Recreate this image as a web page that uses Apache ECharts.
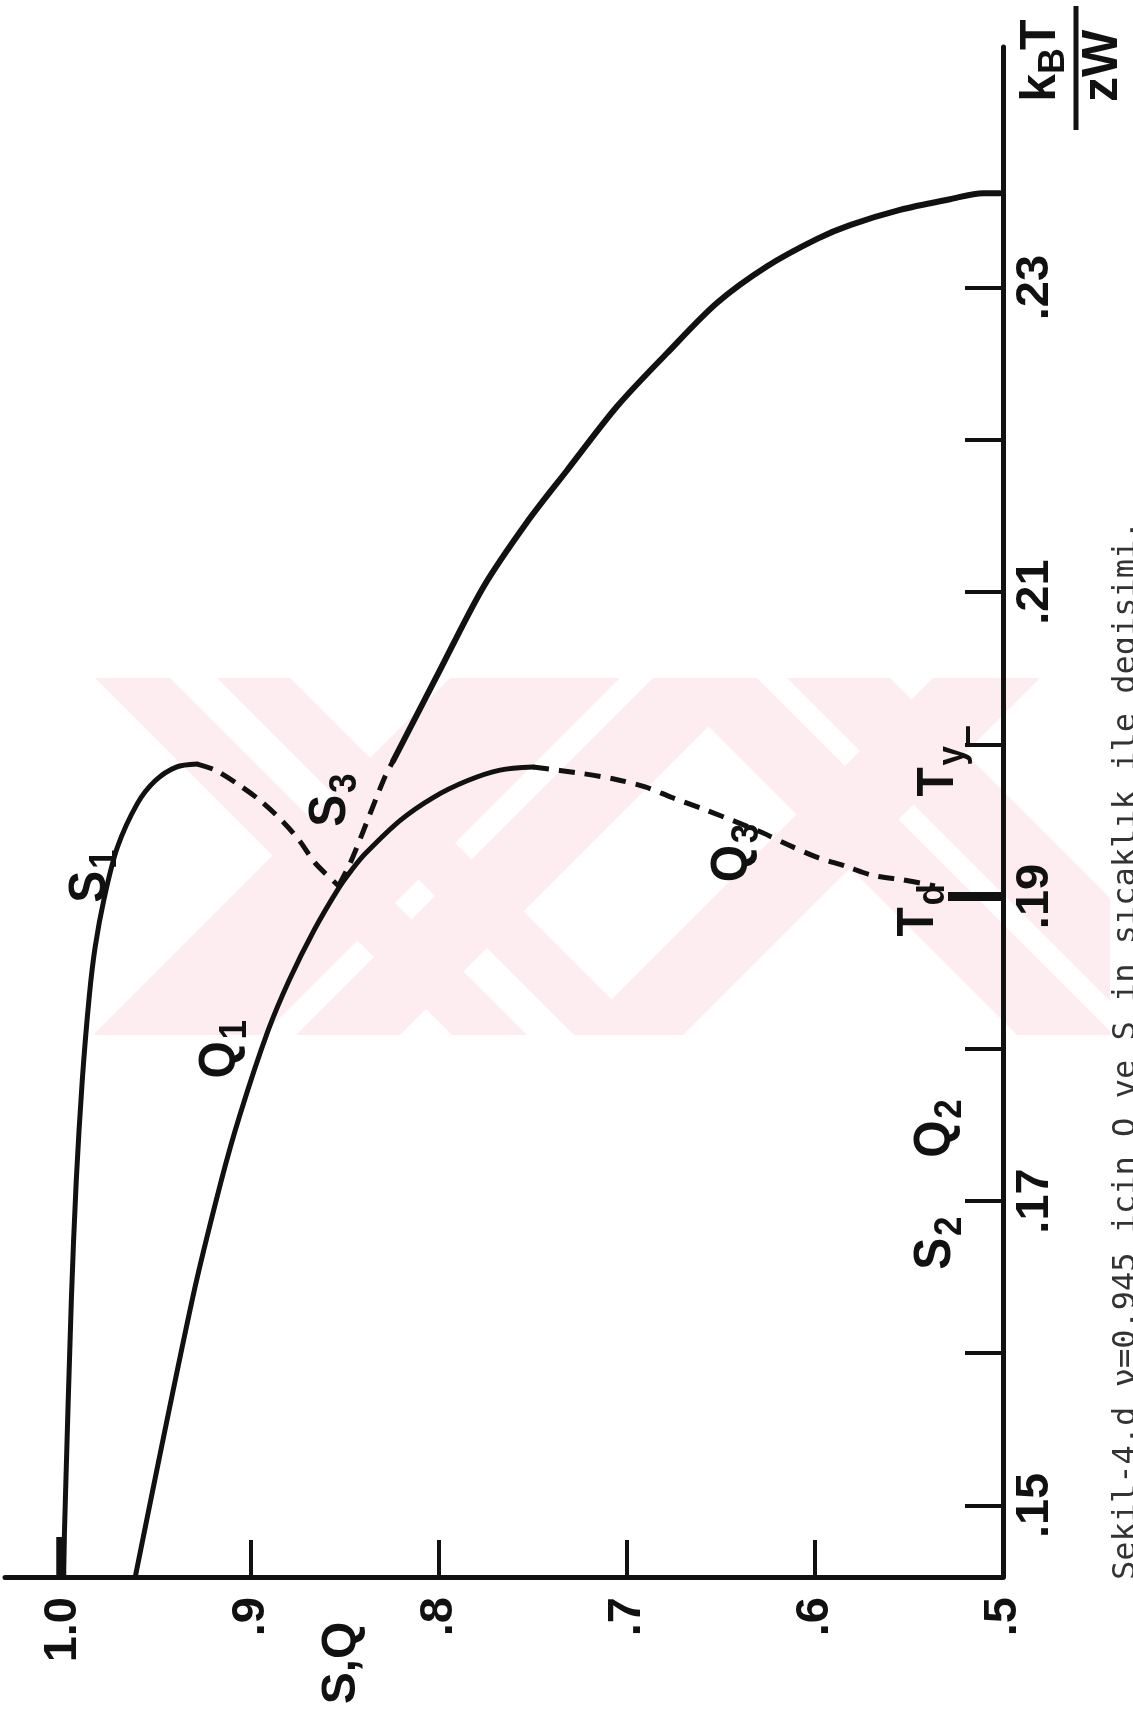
<!DOCTYPE html>
<html><head><meta charset="utf-8">
<script src="https://cdn.jsdelivr.net/npm/echarts@6/dist/echarts.min.js"></script>
<style>html,body{margin:0;padding:0;background:#fff}#c{width:1133px;height:1716px}</style>
</head><body><div id="c"></div>
<script>
// ---- data (x = S,Q order parameter ; y = kBT/zW) ----
const sTicks = [0.5, 0.6, 0.7, 0.8, 0.9, 1.0];
const tTicks = [0.15, 0.16, 0.17, 0.18, 0.19, 0.20, 0.21, 0.22, 0.23];
const tLabels = [0.15, 0.17, 0.19, 0.21, 0.23];

const s1Solid = [[1.0,0.1453],[0.9989,0.1503],[0.9957,0.1635],[0.9931,0.1713],[0.9899,0.1779],[0.9862,0.1834],[0.9830,0.1867],[0.9782,0.1899],[0.9713,0.1932],[0.9606,0.1961],[0.9511,0.1976],[0.9399,0.1985],[0.9287,0.1987]];
const s1Dashed = [[0.9287,0.1987],[0.9191,0.1983],[0.9074,0.1974],[0.8952,0.1963],[0.8830,0.1949],[0.8739,0.1936],[0.8660,0.1922],[0.8535,0.1907]];
const qSolid = [[0.9617,0.1453],[0.9314,0.1635],[0.9160,0.1713],[0.9059,0.1757],[0.8910,0.1812],[0.8798,0.1845],[0.8665,0.1878],[0.8532,0.1906],[0.8468,0.1917],[0.8394,0.1928],[0.8207,0.1950],[0.8032,0.1965],[0.7851,0.1976],[0.7676,0.1983],[0.7500,0.1985]];
const qDashed = [[0.7500,0.1985],[0.7250,0.1981],[0.7064,0.1977],[0.6904,0.1972],[0.6761,0.1965],[0.6585,0.1957],[0.6420,0.1949],[0.6282,0.1942],[0.6144,0.1934],[0.5995,0.1926],[0.5840,0.1920],[0.5697,0.1914],[0.5537,0.1911],[0.5362,0.1907]];
const s3Dashed = [[0.8535,0.1907],[0.8473,0.1922],[0.8410,0.1941],[0.8340,0.1963],[0.8287,0.1979],[0.8245,0.1989]];
const sUpper = [[0.8245,0.1989],[0.8011,0.2045],[0.7766,0.2103],[0.7532,0.2146],[0.7319,0.2180],[0.7053,0.2222],[0.6787,0.2257],[0.6521,0.2290],[0.6255,0.2314],[0.5989,0.2332],[0.5814,0.2341],[0.5548,0.2351],[0.5282,0.2358],[0.5106,0.2362],[0.5016,0.2362]];

const curveLabels = [
  {main:'S', sub:'1', at:[0.9846,0.1912]},
  {main:'S', sub:'3', at:[0.8569,0.1962]},
  {main:'Q', sub:'1', at:[0.9154,0.1800]},
  {main:'Q', sub:'2', at:[0.5346,0.1748]},
  {main:'S', sub:'2', at:[0.5346,0.1671]},
  {main:'Q', sub:'3', at:[0.6426,0.1929]},
  {main:'T', sub:'y', at:[0.5330,0.1980]},
  {main:'T', sub:'d', at:[0.5440,0.1888]}
];
const caption = 'Sekil-4.d \u03bd=0.945 icin Q ve S in s\u0131cakl\u0131k ile degisimi.';

// ---- chart ----
const FONT = '"Liberation Sans", Arial, sans-serif';
const INK = '#111';
const chart = echarts.init(document.getElementById('c'), null, {renderer:'canvas'});

function line(data, dashed, width) {
  return {
    type:'line', data, showSymbol:false, symbol:'none', smooth:0.3, clip:false, z:3,
    lineStyle:{color:INK, width:width || 5, type: dashed ? [16,10] : 'solid', cap: dashed ? 'butt' : 'round', join:'round'}
  };
}

chart.setOption({
  animation:false,
  backgroundColor:'#fff',
  grid:{left:5, right:130, top:47, bottom:139, containLabel:false},
  xAxis:{
    type:'value', inverse:true, min:0.5, max:1.031, position:'bottom',
    splitLine:{show:false},
    axisLine:{onZero:false, lineStyle:{color:INK, width:5}},
    axisTick:{inside:true, length:37, customValues:sTicks, lineStyle:{color:INK, width:4}},
    axisLabel:{customValues:sTicks, rotate:90, margin:20, color:INK, fontFamily:FONT, fontWeight:'bold', fontSize:47,
      formatter: v => v >= 0.999 ? '1.0' : '.' + Math.round(v*10)}
  },
  yAxis:{
    type:'value', position:'right', min:0.1453, max:0.2458,
    splitLine:{show:false},
    axisLine:{onZero:false, lineStyle:{color:INK, width:5}},
    axisTick:{inside:true, length:38, customValues:tTicks, lineStyle:{color:INK, width:4}},
    axisLabel:{customValues:tLabels, rotate:90, margin:9, color:INK, fontFamily:FONT, fontWeight:'bold', fontSize:47,
      formatter: v => '.' + Math.round(v*100)}
  },
  series:[
    line(s1Solid, false, 5),
    line(s1Dashed, true, 5),
    line(qSolid, false, 5),
    line(qDashed, true, 5),
    line(s3Dashed, true, 5),
    line(sUpper, false, 6)
  ]
});

// ---- overlays ----
const px = p => chart.convertToPixel({gridIndex:0}, p);
const g = [];

// faint watermark of the scan (decoration only)
function clipPoly(poly, x0, x1, y0, y1) {
  const edges = [
    [p => p[0] >= x0, (a,b) => { const t=(x0-a[0])/(b[0]-a[0]); return [x0, a[1]+t*(b[1]-a[1])]; }],
    [p => p[0] <= x1, (a,b) => { const t=(x1-a[0])/(b[0]-a[0]); return [x1, a[1]+t*(b[1]-a[1])]; }],
    [p => p[1] >= y0, (a,b) => { const t=(y0-a[1])/(b[1]-a[1]); return [a[0]+t*(b[0]-a[0]), y0]; }],
    [p => p[1] <= y1, (a,b) => { const t=(y1-a[1])/(b[1]-a[1]); return [a[0]+t*(b[0]-a[0]), y1]; }]
  ];
  let out = poly;
  for (const [inside, cut] of edges) {
    const inp = out; out = [];
    for (let i=0;i<inp.length;i++) {
      const a = inp[i], b = inp[(i+1)%inp.length];
      if (inside(b)) { if (!inside(a)) out.push(cut(a,b)); out.push(b); }
      else if (inside(a)) out.push(cut(a,b));
    }
    if (!out.length) break;
  }
  return out;
}
const wmTop = 678, wmBot = 1035, wmH = wmBot - wmTop;
const back = [[95,170],[217,290],[660,757],[787,890]];
const fwd = [[450,620],[653,757],[933,1040]];
const WM = '#fdedf1';
back.forEach(([a,b]) => {
  const p = clipPoly([[a,wmTop],[b,wmTop],[b+wmH,wmBot],[a+wmH,wmBot]], 95, 1110, wmTop, wmBot);
  if (p.length) g.push({type:'polygon', z:0, silent:true, shape:{points:p}, style:{fill:WM}});
});
fwd.forEach(([a,b]) => {
  const p = clipPoly([[a,wmTop],[b,wmTop],[b-wmH,wmBot],[a-wmH,wmBot]], 95, 1110, wmTop, wmBot);
  if (p.length) g.push({type:'polygon', z:0, silent:true, shape:{points:p}, style:{fill:WM}});
});

// thick Td tick at .19, Ty tick hook and thick mark at S=1.0 near the bottom
const td = px([0.5, 0.19]);
g.push({type:'line', z:5, shape:{x1:td[0]-55, y1:td[1], x2:td[0], y2:td[1]}, style:{stroke:INK, lineWidth:9}});
const ty = px([0.5, 0.20]);
g.push({type:'line', z:5, shape:{x1:ty[0]-35, y1:ty[1]-18, x2:ty[0]-35, y2:ty[1]}, style:{stroke:INK, lineWidth:4}});
const s1b = px([1.0, 0.1453]);
g.push({type:'line', z:5, shape:{x1:s1b[0]-2, y1:s1b[1]-40, x2:s1b[0]-2, y2:s1b[1]}, style:{stroke:INK, lineWidth:10}});

// curve labels (main letter + lowered index), rotated like the whole figure
const LF = (size) => 'bold ' + size + 'px ' + FONT;
curveLabels.forEach(l => {
  const p = px(l.at);
  g.push({type:'group', z:6, x:p[0], y:p[1], rotation:Math.PI/2, scaleX:0.92, children:[
    {type:'text', z:6, x:8, y:-2, style:{text:l.main, align:'right', verticalAlign:'middle', fill:INK, font:LF(52)}},
    {type:'text', z:6, x:10, y:13, style:{text:l.sub, align:'left', verticalAlign:'middle', fill:INK, font:LF(38)}}
  ]});
});

// axis titles
const sq = px([0.8516, 0.1453]);
g.push({type:'text', z:6, x:sq[0], y:1663, rotation:Math.PI/2,
  style:{text:'S,Q', align:'center', verticalAlign:'middle', fill:INK, font:LF(48)}});
g.push({type:'group', x:1076, y:68, rotation:Math.PI/2, children:[
  {type:'line', shape:{x1:-62, y1:0, x2:62, y2:0}, style:{stroke:INK, lineWidth:5}},
  {type:'text', x:-6, y:-10, style:{text:'k', align:'right', verticalAlign:'bottom', fill:INK, font:LF(50)}},
  {type:'text', x:-6, y:-4, style:{text:'B', align:'left', verticalAlign:'bottom', fill:INK, font:LF(36)}},
  {type:'text', x:18, y:-10, style:{text:'T', align:'left', verticalAlign:'bottom', fill:INK, font:LF(50)}},
  {type:'text', x:2, y:2, style:{text:'zW', align:'center', verticalAlign:'top', fill:INK, font:LF(50)}}
]});

// caption (cut by the right edge as in the scan)
g.push({type:'text', z:6, x:1111, y:1580, rotation:Math.PI/2,
  style:{text:caption, align:'left', verticalAlign:'top', fill:'#333', fontFamily:'"DejaVu Sans Mono", monospace', fontSize:32}});

chart.setOption({graphic:{elements:g}});
</script>
</body></html>
